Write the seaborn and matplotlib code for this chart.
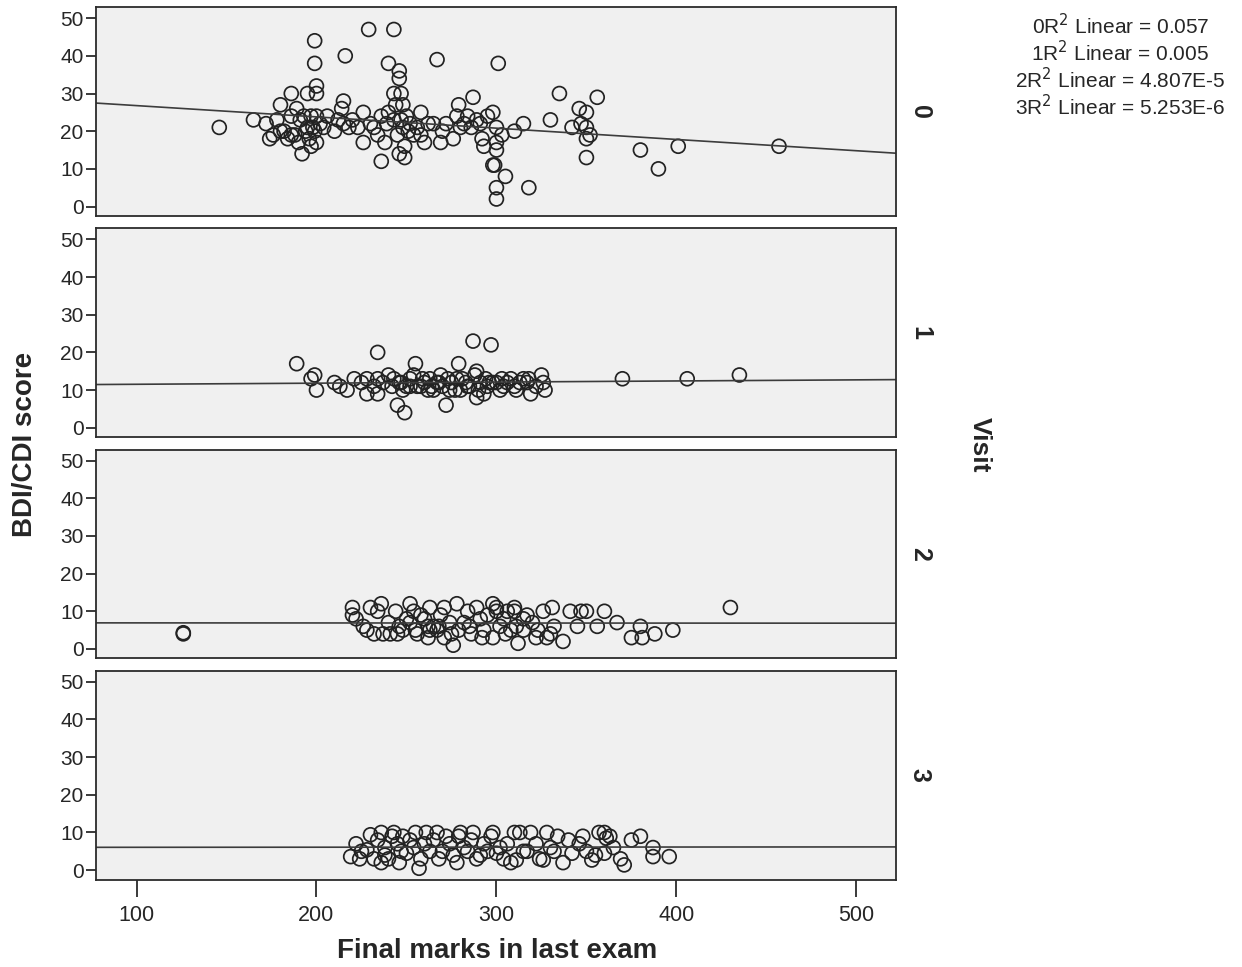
import matplotlib
matplotlib.use('Agg')
import pandas as pd
import seaborn as sns
import matplotlib.pyplot as plt

# Visit 0: final marks vs BDI/CDI score
marks_v0 = [146, 165, 172, 174, 176, 178, 180, 180, 182, 184, 186, 186, 186, 188, 189, 190, 191, 192,
            193, 194, 195, 195, 196, 197, 197, 198, 199, 199, 199, 200, 200, 200, 200, 202, 204, 206,
            210, 212, 214, 215, 215, 216, 218, 220, 223, 226, 226, 229, 230, 232, 234, 236, 236, 238,
            239, 240, 240, 243, 243, 243, 244, 245, 246, 246, 246, 247, 247, 248, 248, 249, 249, 250,
            251, 252, 254, 256, 258, 258, 260, 262, 265, 267, 269, 270, 272, 276, 278, 279, 280, 282,
            284, 286, 287, 289, 291, 292, 293, 295, 298, 298, 299, 300, 300, 300, 300, 300, 301, 303,
            305, 310, 315, 318, 330, 335, 342, 346, 347, 350, 350, 350, 350, 352, 356, 380, 390, 401,
            457]
score_v0 = [21, 23, 22, 18, 19, 23, 27, 20, 20, 18, 30, 24, 19, 19, 26, 17, 23, 14,
            24, 20, 30, 21, 18, 24, 16, 21, 44, 38, 20, 32, 30, 24, 17, 22, 21, 24,
            20, 23, 26, 28, 22, 40, 21, 23, 21, 25, 17, 47, 22, 21, 19, 24, 12, 17,
            22, 38, 25, 47, 30, 23, 27, 19, 36, 34, 14, 30, 23, 27, 21, 16, 13, 24,
            20, 22, 19, 21, 25, 19, 17, 22, 22, 39, 17, 20, 22, 18, 24, 27, 21, 22,
            24, 21, 29, 23, 22, 18, 16, 24, 25, 11, 11, 21, 17, 15, 5, 2, 38, 19,
            8, 20, 22, 5, 23, 30, 21, 26, 22, 25, 21, 18, 13, 19, 29, 15, 10, 16,
            16]

# Visit 1
marks_v1 = [189, 197, 199, 200, 210, 213, 217, 221, 225, 228, 228, 232, 234, 234, 234, 237, 240, 242,
            243, 245, 246, 247, 248, 249, 250, 252, 252, 254, 255, 256, 258, 259, 260, 262, 263, 264,
            265, 267, 268, 269, 270, 272, 273, 274, 275, 277, 278, 279, 280, 281, 283, 284, 285, 287,
            288, 289, 289, 290, 291, 293, 294, 295, 296, 297, 298, 300, 302, 303, 304, 306, 308, 310,
            311, 313, 315, 317, 318, 319, 322, 325, 326, 327, 370, 406, 435]
score_v1 = [17, 13, 14, 10, 12, 11, 10, 13, 12, 13, 9, 11, 20, 13, 9, 12, 14, 11,
            13, 6, 12, 12, 10, 4, 11, 13, 11, 14, 17, 11, 11, 13, 12, 10, 13, 11,
            10, 12, 12, 14, 11, 6, 13, 10, 12, 10, 13, 17, 10, 13, 12, 11, 11, 23,
            14, 15, 8, 10, 12, 9, 13, 11, 12, 22, 12, 12, 10, 13, 11, 12, 13, 11,
            10, 12, 13, 12, 13, 9, 11, 14, 12, 10, 13, 13, 14]

# Visit 2
marks_v2 = [126, 126, 220, 220, 222, 226, 228, 230, 232, 234, 236, 237, 240, 241, 244, 245, 246, 248,
            250, 252, 252, 254, 255, 256, 258, 260, 262, 262, 263, 263, 265, 267, 268, 269, 271, 271,
            274, 275, 276, 278, 279, 282, 284, 285, 286, 289, 291, 292, 293, 295, 298, 298, 300, 300,
            302, 304, 305, 306, 308, 310, 310, 311, 312, 315, 315, 317, 320, 322, 323, 326, 328, 330,
            331, 332, 337, 341, 345, 347, 350, 356, 360, 367, 375, 380, 381, 388, 398, 430]
score_v2 = [4, 4.3, 11, 9, 8, 6, 5, 11, 4, 10, 12, 4, 7, 4, 10, 4, 6, 5,
            8, 12, 7, 10, 5, 4, 9, 8, 3, 6, 11, 5, 6, 5, 6, 9, 11, 3,
            7, 4, 1, 12, 5, 7, 10, 6, 4, 11, 8, 3, 5, 9, 12, 3, 10, 11,
            6, 8, 4, 10, 5, 11, 10, 6, 1.5, 8, 5, 9, 7, 3, 5, 10, 3, 4,
            11, 6, 2, 10, 6, 10, 10, 6, 10, 7, 3, 6, 3, 4, 5, 11]

# Visit 3
marks_v3 = [219, 222, 224, 225, 228, 230, 232, 234, 236, 236, 238, 238, 240, 242, 243, 245, 246, 247,
            248, 250, 252, 254, 255, 257, 258, 260, 261, 263, 265, 267, 268, 270, 272, 274, 276, 278,
            279, 280, 282, 284, 286, 287, 289, 291, 293, 295, 297, 298, 300, 302, 304, 306, 308, 310,
            311, 313, 315, 317, 319, 322, 324, 326, 328, 330, 332, 334, 337, 340, 342, 346, 348, 350,
            353, 355, 357, 360, 361, 360, 363, 365, 369, 371, 375, 380, 387, 387, 396]
score_v3 = [3.6, 7, 3, 5, 5.4, 9.4, 3, 8, 10, 2, 6, 4, 3, 9, 10, 7, 2, 5,
            9, 4.5, 8, 6, 10, 0.5, 3, 7, 10, 5, 8, 10, 3, 5, 9, 7, 4, 2,
            9, 10, 6, 5, 8, 10, 3, 4, 7, 5, 9, 10, 4.5, 6, 3, 7, 2, 10,
            2.7, 10, 5, 5, 10, 7, 3, 2.7, 10, 6, 5, 9, 2, 8, 4.5, 7, 9, 5,
            2.7, 4, 10, 10, 8.5, 4.5, 9, 6, 3, 1.4, 8, 9, 6, 3.6, 3.6]

visits = ['0', '1', '2', '3']
r2_values = ['0.057', '0.005', '4.807E-5', '5.253E-6']
x_ticks = [100, 200, 300, 400, 500]
y_ticks = [0, 10, 20, 30, 40, 50]

frames = []
for v, m, s in zip(visits, [marks_v0, marks_v1, marks_v2, marks_v3],
                   [score_v0, score_v1, score_v2, score_v3]):
    frames.append(pd.DataFrame({'marks': m, 'score': s, 'Visit': v}))
df = pd.concat(frames, ignore_index=True)

sns.set_style('ticks')
plt.rcParams['font.family'] = ['Liberation Sans', 'DejaVu Sans']

fig, axes = plt.subplots(4, 1, figsize=(12.42, 9.67), dpi=100, sharex=True, sharey=True)
fig.subplots_adjust(left=0.0773, right=0.7214, top=0.9925, bottom=0.0904, hspace=0.06)

edge = '#2b2b2b'
for ax, v in zip(axes, visits):
    ax.set_facecolor('#f0f0f0')
    ax.set_xlim(77.5, 522)
    ax.set_ylim(-2.5, 52.9)
    sub = df[df['Visit'] == v]
    sns.regplot(data=sub, x='marks', y='score', ax=ax, ci=None, truncate=False,
                scatter_kws=dict(s=100, facecolors='none', edgecolors='#222222',
                                 linewidths=1.25, alpha=1),
                line_kws=dict(color='#3c3c3c', lw=1.2))
    ax.set_xlabel('')
    ax.set_ylabel('')
    ax.set_yticks(y_ticks)
    ax.set_xticks(x_ticks)
    for sp in ax.spines.values():
        sp.set_color(edge)
        sp.set_linewidth(1.3)
    ax.tick_params(axis='y', length=7, width=1.3, color=edge, labelsize=15, pad=2)
    ax.tick_params(axis='x', length=12, width=1.3, color=edge, labelsize=15.5, pad=6)
    ax.text(1.03, 0.5, v, transform=ax.transAxes, rotation=270, fontsize=18,
            fontweight='bold', ha='center', va='center')

for ax in axes[:-1]:
    ax.tick_params(axis='x', bottom=False, labelbottom=False)

fig.text(0.02, 0.54, 'BDI/CDI score', rotation=90, fontsize=20, fontweight='bold',
         ha='center', va='center')
fig.text(0.4, 0.017, 'Final marks in last exam', fontsize=20, fontweight='bold',
         ha='center', va='center')
fig.text(0.789, 0.54, 'Visit', rotation=270, fontsize=19, fontweight='bold',
         ha='center', va='center')

for i, (v, r2) in enumerate(zip(visits, r2_values)):
    fig.text(0.902, 0.974 - i * 0.0282, f'{v}R$^2$ Linear = {r2}', fontsize=15,
             ha='center', va='center')

fig.savefig('out.png', dpi=100)
